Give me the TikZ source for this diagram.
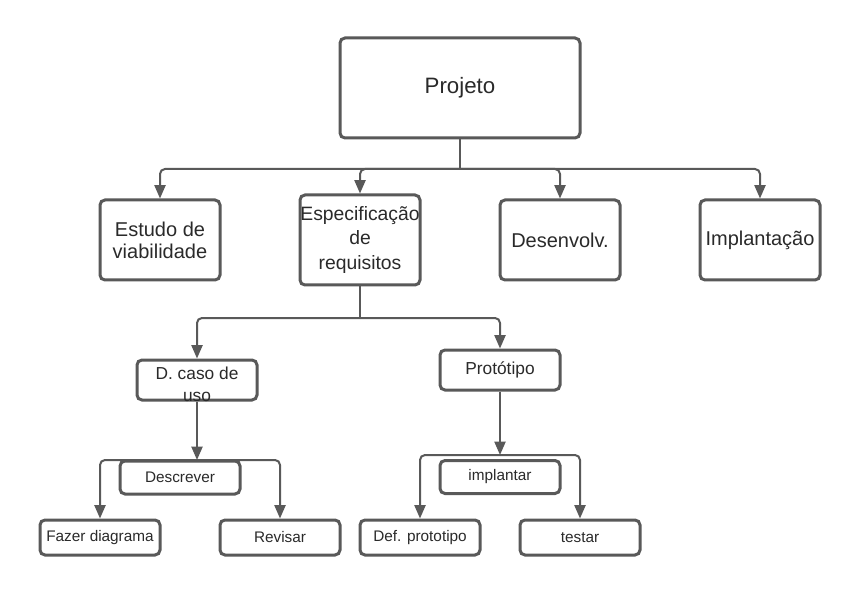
\documentclass[tikz,border=0pt]{standalone}
\usepackage{fontspec}
\setmainfont{Liberation Sans}
\usetikzlibrary{arrows.meta}
\definecolor{ln}{HTML}{595959}
\definecolor{tx}{HTML}{2A2A2A}
\begin{document}
\begin{tikzpicture}[x=0.75pt,y=-0.75pt,
  box/.style={draw=ln,line width=2.25pt,rounded corners=3.75pt,fill=white,inner sep=0pt,align=center,text=tx,minimum width=90pt},
  big/.style={box,font=\fontsize{16.7}{19}\selectfont},
  mid/.style={box,font=\fontsize{15}{16.5}\selectfont,minimum height=60pt},
  sml/.style={box,font=\fontsize{13}{16.5}\selectfont,minimum height=30pt},
  tiny/.style={box,font=\fontsize{11.5}{13}\selectfont,minimum height=26.25pt},
  conn/.style={draw=ln,line width=1.5pt,rounded corners=3.75pt,-{Triangle[length=10pt,width=8.25pt]}},
  plain/.style={draw=ln,line width=1.5pt,rounded corners=3.75pt}]
\path[use as bounding box,fill=white] (0,0) rectangle (860,595);

\node[big,minimum width=180pt,minimum height=75pt] (proj) at (460,88) {Projeto};
\node[mid] (estudo) at (160,240) {Estudo de\\viabilidade};
\node[mid,minimum height=67.5pt,font=\fontsize{14.5}{18.4}\selectfont] (spec) at (360,240) {Especificação\\de\\requisitos};
\node[mid] (desenv) at (560,240) {Desenvolv.};
\node[mid] (impl) at (760,240) {Implantação};

\node[sml] (dcaso) at (197,380) {};
\node[font=\fontsize{13}{16.5}\selectfont,text=tx,align=center,inner sep=0pt] (dcasot) at (197,384) {D. caso de\\uso};
\node[sml] (proto) at (500,370) {Protótipo};

\node[tiny,minimum height=24.75pt] (desc) at (180,477.5) {Descrever};
\node[tiny,minimum height=24.75pt] (implt) at (500,477) {implantar};
\node[tiny] (fazer) at (100,537.5) {Fazer diagrama};
\node[tiny] (revisar) at (280,537.5) {Revisar};
\node[tiny] (defp) at (420,537.5) {Def. prototipo};
\node[tiny] (testar) at (580,537.5) {testar};

% level 1
\coordinate (b1) at (460,169);
\draw[plain] (proj.south) -- (b1);
\draw[conn] (b1) -| (estudo.north);
\draw[conn] (b1) -| (spec.north);
\draw[conn] (b1) -| (desenv.north);
\draw[conn] (b1) -| (impl.north);

% level 2
\coordinate (b2) at (360,318);
\draw[plain] (spec.south) -- (b2);
\draw[conn] (b2) -| (dcaso.north);
\draw[conn] (b2) -| (proto.north);

% level 3 left
\coordinate (j1) at (197,460);
\draw[conn] (dcaso.south) -- (j1);
\draw[conn] (j1) -| (fazer.north);
\draw[conn] (j1) -| (revisar.north);

% level 3 right
\coordinate (j2) at (500,455);
\draw[conn] (proto.south) -- (j2);
\draw[conn] (j2) -| (defp.north);
\draw[conn] (j2) -| (testar.north);
\end{tikzpicture}
\end{document}
